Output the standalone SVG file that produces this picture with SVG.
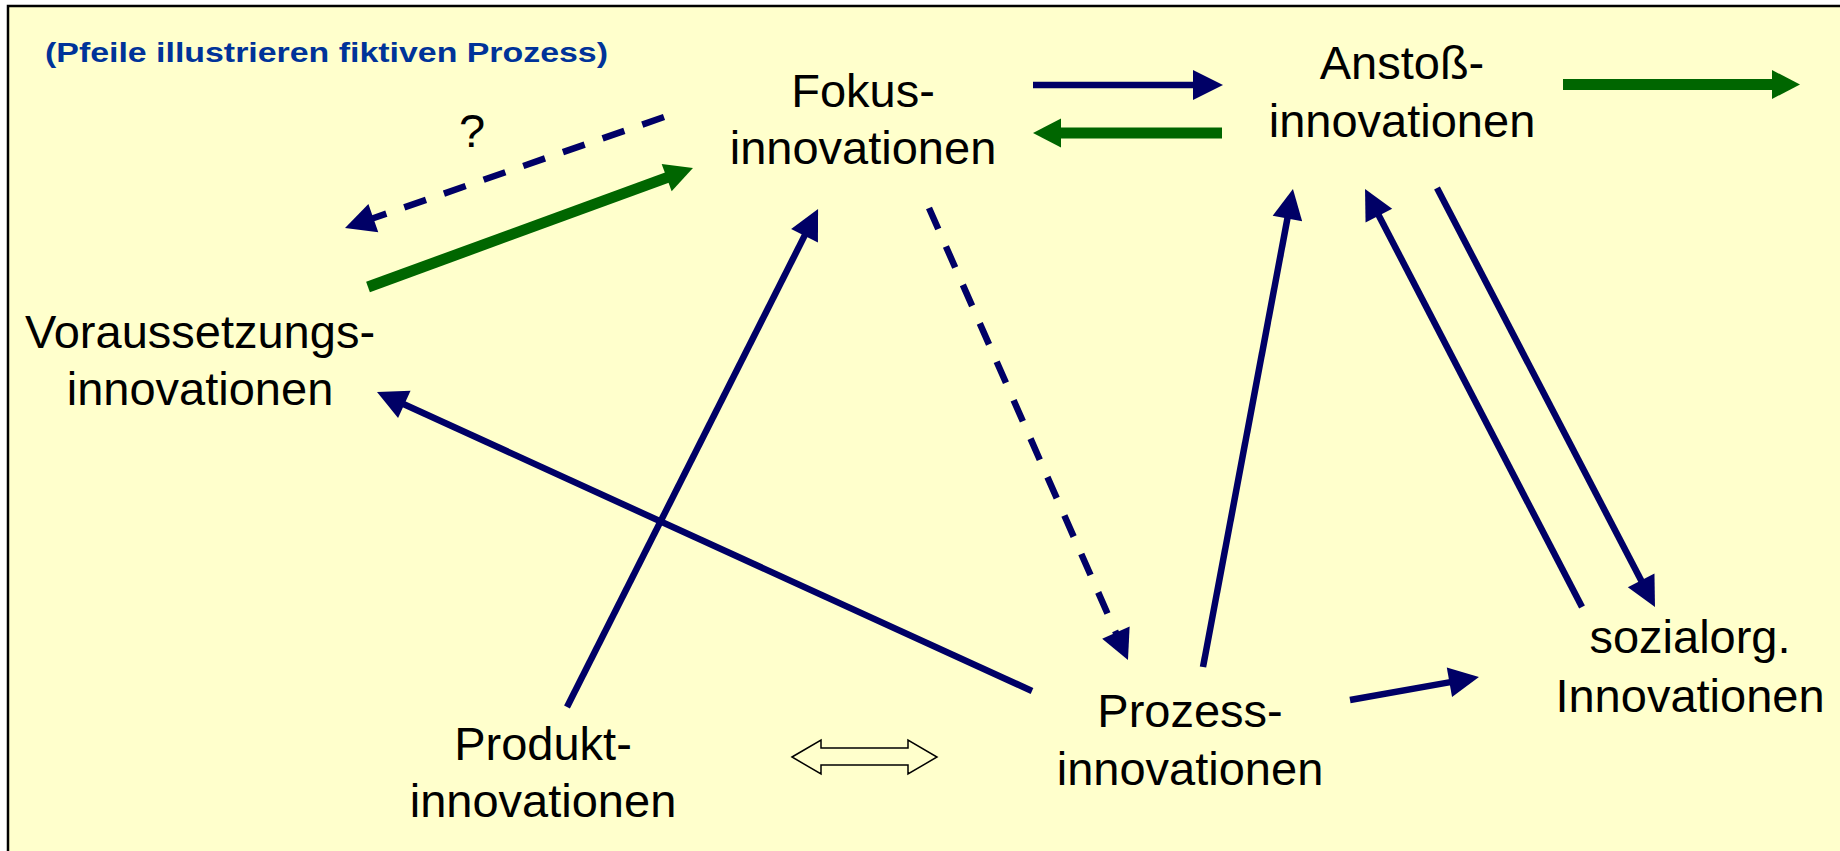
<svg xmlns="http://www.w3.org/2000/svg" width="1840" height="851" viewBox="0 0 1840 851">
  <style>
    .lbl { font-family: "Liberation Sans", Arial, sans-serif; font-size: 47px; fill: #000; text-anchor: middle; }
    .note { font-family: "Liberation Sans", Arial, sans-serif; font-size: 27px; font-weight: bold; fill: #003399; }
    .blue { stroke: #000066; stroke-width: 6.5; fill: none; marker-end: url(#headBlue); }
    .dash { stroke-dasharray: 23 19; }
    .green { stroke: #006600; stroke-width: 11; fill: none; marker-end: url(#headGreen); }
  </style>
  <defs>
    <marker id="headBlue" markerUnits="userSpaceOnUse" markerWidth="30" markerHeight="30" refX="1" refY="15" orient="auto" overflow="visible">
      <path d="M0,0 L30,15 L0,30 Z" fill="#000066"/>
    </marker>
    <marker id="headGreen" markerUnits="userSpaceOnUse" markerWidth="28" markerHeight="29" refX="1" refY="14.5" orient="auto" overflow="visible">
      <path d="M0,0 L28,14.5 L0,29 Z" fill="#006600"/>
    </marker>
  </defs>

  <!-- background panel -->
  <rect x="0" y="0" width="1840" height="851" fill="#ffffff"/>
  <rect x="8" y="6" width="1900" height="900" fill="#FFFFCC" stroke="#000" stroke-width="2.5"/>

  <text class="note" x="45" y="62" textLength="563" lengthAdjust="spacingAndGlyphs">(Pfeile illustrieren fiktiven Prozess)</text>

  <!-- connectors -->
  <g id="connectors">
    <line class="blue" x1="1033" y1="85" x2="1194" y2="85"/>
    <line class="green" x1="1222" y1="133" x2="1060" y2="133"/>
    <line class="green" x1="1563" y1="84.5" x2="1773" y2="84.5"/>
    <line class="green" x1="368" y1="287" x2="667.6" y2="177.3"/>
    <line class="blue dash" x1="664" y1="117" x2="372.4" y2="218.5"/>
    <line class="blue" x1="567" y1="707" x2="805" y2="234.9"/>
    <line class="blue dash" x1="929" y1="208" x2="1116.3" y2="633.5"/>
    <line class="blue" x1="1032" y1="691" x2="403.4" y2="404"/>
    <line class="blue" x1="1203" y1="667" x2="1287.6" y2="217.5"/>
    <line class="blue" x1="1582" y1="607" x2="1378.4" y2="214.7"/>
    <line class="blue" x1="1437" y1="188" x2="1641.6" y2="581.3"/>
    <line class="blue" x1="1350" y1="700" x2="1450.4" y2="682.1"/>
    <polygon points="792,757 821,740 821,748 908,748 908,740 937,757 908,774 908,765 821,765 821,774" fill="none" stroke="#000" stroke-width="1.5"/>
    <text class="lbl" x="472" y="147">?</text>
  </g>

  <g id="fokus">
    <text class="lbl" x="863" y="107">Fokus-</text>
    <text class="lbl" x="863" y="164">innovationen</text>
  </g>
  <g id="anstoss">
    <text class="lbl" x="1402" y="79">Anstoß-</text>
    <text class="lbl" x="1402" y="137">innovationen</text>
  </g>
  <g id="voraussetzung">
    <text class="lbl" x="200" y="348">Voraussetzungs-</text>
    <text class="lbl" x="200" y="405">innovationen</text>
  </g>
  <g id="produkt">
    <text class="lbl" x="543" y="760">Produkt-</text>
    <text class="lbl" x="543" y="817">innovationen</text>
  </g>
  <g id="prozess">
    <text class="lbl" x="1190" y="727">Prozess-</text>
    <text class="lbl" x="1190" y="785">innovationen</text>
  </g>
  <g id="sozialorg">
    <text class="lbl" x="1690" y="653">sozialorg.</text>
    <text class="lbl" x="1690" y="712">Innovationen</text>
  </g>
</svg>
